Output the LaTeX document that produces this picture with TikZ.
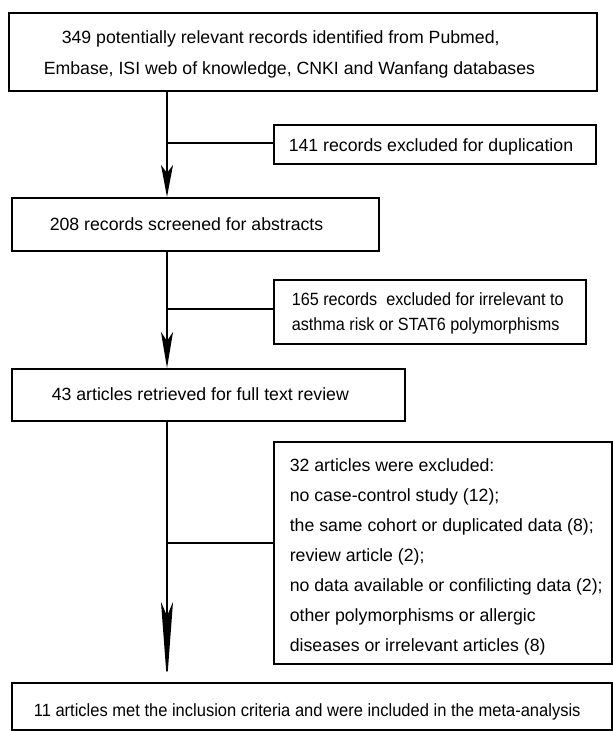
\documentclass[tikz,border=0pt]{standalone}
\usepackage{fontspec}
\setmainfont{Liberation Sans}
\newfontfamily\narrowA[FakeStretch=0.915]{Liberation Sans}
\newfontfamily\narrowB[FakeStretch=0.933]{Liberation Sans}
\usetikzlibrary{arrows.meta}
\begin{document}
\begin{tikzpicture}[x=1pt,y=-1pt,line width=1.6pt,
  box/.style={draw,line width=1.6pt,inner sep=0pt,anchor=north west},
  txt/.style={anchor=base west,inner sep=0pt,font=\fontsize{17.7}{20}\selectfont},
  arr/.style 2 args={-{Stealth[length=#1,width=12pt,inset=#2]}}]
\useasboundingbox (0,0) rectangle (613,731);
% boxes
\node[box,minimum width=588pt,minimum height=78pt] (b1) at (8,12) {};
\node[box,minimum width=322pt,minimum height=39pt] (b141) at (273,124) {};
\node[box,minimum width=367pt,minimum height=53pt] (b208) at (11,197) {};
\node[box,minimum width=312pt,minimum height=64pt] (b165) at (273,279) {};
\node[box,minimum width=393pt,minimum height=52pt] (b43) at (11,368) {};
\node[box,minimum width=338pt,minimum height=222pt] (b32) at (273,441) {};
\node[box,minimum width=600pt,minimum height=47pt] (bf) at (11,682) {};
% texts
\node[txt] (t1a) at (61,43) {349 potentially relevant records identified from Pubmed,};
\node[txt] (t1b) at (43,74) {Embase, ISI web of knowledge, CNKI and Wanfang databases};
\node[txt] (t141) at (288,151) {141 records excluded for duplication};
\node[txt] (t208) at (49,230) {208 records screened for abstracts};
\node[txt] (t165a) at (291,305) {\narrowA 165 records\ \ excluded for irrelevant to};
\node[txt] (t165b) at (291,330) {\narrowA asthma risk or STAT6 polymorphisms};
\node[txt] (t43) at (51,400) {43 articles retrieved for full text review};
\node[txt] (t32a) at (289,471) {32 articles were excluded:};
\node[txt] (t32b) at (289,501) {no case-control study (12);};
\node[txt] (t32c) at (289,531) {the same cohort or duplicated data (8);};
\node[txt] (t32d) at (289,561) {review article (2);};
\node[txt] (t32e) at (289,591) {no data available or confilicting data (2);};
\node[txt] (t32f) at (289,621) {other polymorphisms or allergic};
\node[txt] (t32g) at (289,651) {diseases or irrelevant articles (8)};
\node[txt] (tf) at (33,716) {\narrowB 11 articles met the inclusion criteria and were included in the meta-analysis};
% spine
\coordinate (spine) at (167,0);
\draw[arr={32pt}{8pt}] (b1.south -| spine) -- (b208.north -| spine);
\draw[arr={36pt}{9pt}] (b208.south -| spine) -- (b43.north -| spine);
\draw[arr={80pt}{14pt}] (b43.south -| spine) -- (bf.north -| spine);
% branches
\draw ([yshift=1.5pt]b141.west) -- ([yshift=1.5pt]b141.west -| spine);
\draw ([yshift=3pt]b165.west) -- ([yshift=3pt]b165.west -| spine);
\draw ([yshift=10pt]b32.west) -- ([yshift=10pt]b32.west -| spine);
\end{tikzpicture}
\end{document}
